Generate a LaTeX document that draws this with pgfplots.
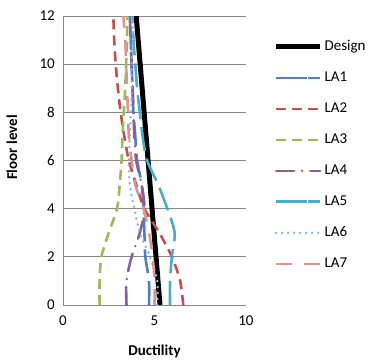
\documentclass[border=0pt]{standalone}
\usepackage{fontspec}
\setmainfont{Carlito}
\usepackage{pgfplots}
\pgfplotsset{compat=1.18}
\definecolor{cA}{HTML}{4F81BD}
\definecolor{cB}{HTML}{C0504D}
\definecolor{cC}{HTML}{9BBB59}
\definecolor{cD}{HTML}{8064A2}
\definecolor{cE}{HTML}{4BACC6}
\definecolor{cF}{HTML}{95B3D7}
\definecolor{cG}{HTML}{D99694}
\definecolor{gridc}{HTML}{868686}
\pgfplotsset{shortleg/.style={legend image code/.code={\draw[##1, solid] (0pt,0pt) -- (31pt,0pt); \path (0pt,0pt) -- (44pt,0pt);}}}
\begin{document}
\fontsize{15}{18}\selectfont
\begin{tikzpicture}
\begin{axis}[
  scale only axis, width=183pt, height=289pt,
  xmin=0, xmax=10, ymin=0, ymax=12,
  xtick={0,5,10}, ytick={0,2,...,12},
  ymajorgrids, grid style={color=gridc, line width=0.9pt},
  axis x line*=bottom, axis y line*=left,
  axis line style={gridc, line width=0.9pt, -},
  major tick length=0pt,
  tick label style={font=\fontsize{15}{18}\selectfont},
  xticklabel style={yshift=-6pt},
  yticklabel style={xshift=-3pt},
  /pgf/number format/assume math mode=true,
  xlabel={\textbf{Ductility}}, ylabel={\textbf{Floor level}},
  xlabel style={at={(axis description cs:0.5,-0.16)}, anchor=center, font=\fontsize{15}{18}\selectfont},
  ylabel style={at={(axis description cs:-0.279,0.545)}, anchor=center, font=\fontsize{15}{18}\selectfont},
  legend style={at={(1.15,0.923)}, anchor=north west, draw=none, fill=none,
    row sep=15pt, font=\fontsize{15}{18}\selectfont, inner sep=0pt},
  legend cell align=left,
  legend image code/.code={\draw[#1] (0pt,0pt) -- (44pt,0pt);},
  every axis plot/.append style={smooth, no markers},
]
\addplot[black, line width=5pt] coordinates {(5.3,0) (4.0,12)};
\addlegendentry{Design}
\addplot[cA, line width=2.6pt, dash pattern=on 24pt off 8pt, shortleg] coordinates {
(4.7,0) (4.7,1) (4.5,2) (4.45,3) (4.4,4) (4.3,5) (4.05,6) (3.95,7) (3.85,8) (3.8,9) (3.75,10) (3.7,11) (3.65,12)};
\addlegendentry{LA1}
\addplot[cB, line width=2.6pt, dash pattern=on 10pt off 6pt] coordinates {
(6.57,0) (6.4,1) (5.95,2) (5.26,3) (4.45,4) (4.0,5) (3.6,6) (3.35,7) (3.15,8) (3.0,9) (2.88,10) (2.8,11) (2.75,12)};
\addlegendentry{LA2}
\addplot[cC, line width=2.6pt, dash pattern=on 10pt off 6pt] coordinates {
(2.0,0) (2.0,1) (2.1,2) (2.5,3) (2.95,4) (3.1,5) (3.2,6) (3.25,7) (3.32,8) (3.4,9) (3.45,10) (3.5,11) (3.5,12)};
\addlegendentry{LA3}
\addplot[cD, line width=2.6pt, dash pattern=on 18pt off 8pt on 0pt off 8pt, line cap=round] coordinates {
(3.47,0) (3.47,1) (3.75,2) (4.2,3) (4.45,4) (4.3,5) (4.0,6) (3.9,7) (3.85,8) (3.8,9) (3.75,10) (3.7,11) (3.65,12)};
\addlegendentry{LA4}
\addplot[cE, line width=2.6pt, dash pattern=on 24pt off 8pt, shortleg] coordinates {
(5.85,0) (5.85,1) (5.95,2) (6.1,3) (5.7,4) (5.2,5) (4.6,6) (4.35,7) (4.2,8) (4.05,9) (3.95,10) (3.85,11) (3.8,12)};
\addlegendentry{LA5}
\addplot[cF, line width=2.8pt, dash pattern=on 0pt off 6pt, line cap=round] coordinates {
(5.15,0) (5.15,1) (4.75,2) (4.2,3) (3.9,4) (3.65,5) (3.6,6) (3.65,7) (3.7,8) (3.75,9) (3.75,10) (3.8,11) (3.8,12)};
\addlegendentry{LA6}
\addplot[cG, line width=2.6pt, dash pattern=on 16pt off 12pt] coordinates {
(5.0,0) (5.0,1) (4.9,2) (4.7,3) (4.4,4) (3.95,5) (3.75,6) (3.6,7) (3.55,8) (3.5,9) (3.45,10) (3.4,11) (3.3,12)};
\addlegendentry{LA7}
\end{axis}
\pgfresetboundingbox
\path (-63pt,-55pt) rectangle (305pt,305pt);
\end{tikzpicture}
\end{document}
